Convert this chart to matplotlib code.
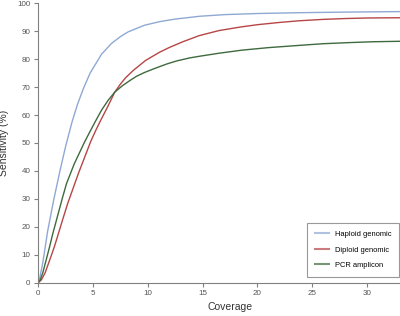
import matplotlib.pyplot as plt
import numpy as np

plt.rcParams['font.family'] = ['Liberation Sans', 'DejaVu Sans']

# values (coverage -> sensitivity %)
hap_x = [0, 0.12, 0.43, 0.88, 1.45, 2.0, 2.5, 3.1, 3.6, 4.12, 4.75, 5.8, 6.7, 7.5, 8.2,
         9.7, 11.1, 12.5, 14.7, 17, 20, 24, 28, 33.5]
hap_y = [0, 1, 7, 18.5, 30, 40, 48.5, 57.5, 63.8, 69.3, 75, 81.8, 85.6, 88, 89.7,
         92.1, 93.4, 94.3, 95.3, 95.9, 96.3, 96.6, 96.8, 97.0]

dip_x = [0, 0.3, 0.64, 1.1, 1.5, 1.85, 2.24, 2.7, 3.2, 3.7, 4.36, 4.8, 5.3, 5.7, 6.33,
         7.0, 7.5, 8.0, 8.7, 9.8, 11.1, 12, 13.2, 14.7, 16.5, 18.5, 20, 22, 23.8, 26, 28, 30, 33.5]
dip_y = [0, 1, 3.5, 8.5, 13, 17.5, 22.5, 28.3, 33.8, 39.3, 46, 50.5, 54.8, 58, 62.8,
         68.2, 71, 73.4, 76, 79.5, 82.5, 84.2, 86.2, 88.4, 90.2, 91.5, 92.3, 93.1, 93.7, 94.2, 94.5, 94.7, 94.8]

pcr_x = [0, 0.2, 0.43, 0.7, 1.03, 1.33, 1.79, 2.2, 2.6, 3.3, 4.2, 4.7, 5.2, 5.8, 6.4,
         7.0, 7.7, 8.4, 9.0, 9.7, 10.6, 11.7, 12.6, 13.8, 14.7, 16.5, 18.6, 21, 23.8, 26, 28.4, 30.5, 33.5]
pcr_y = [0, 1, 3.5, 7.5, 12.5, 17.3, 24, 30, 35.5, 42.5, 50, 53.8, 57.5, 61.8, 65.3,
         68.2, 70.5, 72.4, 73.9, 75.2, 76.6, 78.2, 79.3, 80.4, 81, 82.1, 83.2, 84.1, 84.9, 85.5, 85.9, 86.2, 86.4]

fig = plt.figure(figsize=(4, 3.16), dpi=100)
# the original plot runs a little past the right edge of the picture
ax = fig.add_axes([0.095, 0.105, 0.96, 0.885])

ax.plot(hap_x, hap_y, color='#8fa9d4', lw=1.0, label='Haploid genomic')
ax.plot(dip_x, dip_y, color='#b64646', lw=1.0, label='Diploid genomic')
ax.plot(pcr_x, pcr_y, color='#3e6a3e', lw=1.0, label='PCR amplicon')

ax.set_xlim(0, 35)
ax.set_ylim(0, 100)
ax.set_xticks(range(0, 35, 5))
ax.set_yticks(range(0, 101, 10))

for s in ['top', 'right']:
    ax.spines[s].set_visible(False)
for s in ['left', 'bottom']:
    ax.spines[s].set_color('#808080')
    ax.spines[s].set_linewidth(0.8)
ax.tick_params(colors='#808080', labelcolor='#555555', labelsize=5.8, length=3, width=0.8, pad=2.5)

ax.set_xlabel('Coverage', fontsize=7.5, color='#333333', labelpad=3)
ax.set_ylabel('Sensitivity (%)', fontsize=7.5, color='#333333')
ax.yaxis.set_label_coords(-0.075, 0.5)

leg = ax.legend(loc='lower right', fontsize=5.4, frameon=True, fancybox=False,
                handlelength=1.9, handletextpad=0.8, borderpad=1.0, labelspacing=1.1,
                bbox_to_anchor=(0.998, 0.125), bbox_transform=fig.transFigure,
                borderaxespad=0)
leg.get_frame().set_edgecolor('#808080')
leg.get_frame().set_linewidth(0.8)
for line in leg.get_lines():
    line.set_alpha(0.7)
    line.set_linewidth(1.5)

fig.savefig('out.png', dpi=100)
